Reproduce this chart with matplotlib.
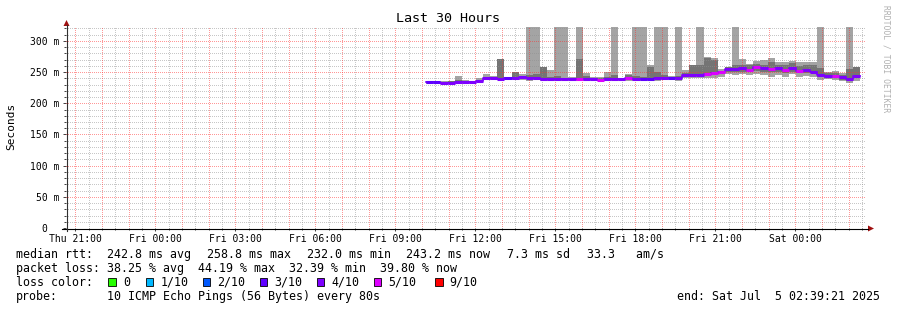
import matplotlib
matplotlib.use('Agg')
import matplotlib.pyplot as plt
from matplotlib.lines import Line2D
from matplotlib.patches import Polygon, Rectangle
import numpy as np

plt.rcParams['font.family'] = ['DejaVu Sans Mono', 'DejaVu Sans']

# time axis: hours since Thu 00:00, view is the last 30 hours before Sat 02:39:21
view_start = 20 + 39 / 60 + 21 / 3600
view_end = view_start + 30
first_step = 34.163          # Fri ~10:10, first consolidated row
step_h = 16 / 60             # 960 s rows

# median rtt per row (ms)
median = [233.5, 233.5, 232.5, 233.0, 233.5, 233.5, 233.5, 236.5,
          240.5, 240.5, 239.5, 240.0, 241.0, 241.5, 241.0, 240.0,
          239.5, 239.5, 239.0, 239.0, 239.0, 238.5, 239.0, 239.5,
          238.0, 238.5, 239.0, 239.0, 240.0, 239.5, 239.5, 239.0,
          240.0, 240.5, 241.0, 241.0, 245.5, 245.5, 246.0, 247.5,
          248.0, 250.0, 255.5, 255.5, 256.5, 253.5, 259.0, 256.0,
          255.0, 256.0, 253.5, 256.5, 252.0, 253.0, 251.0, 245.5,
          244.0, 244.0, 242.0, 239.0, 243.5]

# lost pings out of 10 per row
loss = [3, 3, 4, 4, 4, 4, 4, 4,
        4, 4, 4, 3, 4, 4, 4, 4,
        4, 4, 4, 4, 4, 5, 4, 4,
        5, 4, 4, 4, 5, 4, 3, 3,
        4, 4, 3, 4, 4, 4, 4, 5,
        5, 5, 4, 4, 4, 5, 5, 4,
        5, 4, 5, 4, 5, 4, 4, 4,
        4, 5, 4, 4, 4]

# smoke: outer band (min..max ping), inner band (darker)
ping_max = [236.5, 236.0, 235.0, 236.0, 244.5, 238.0, 236.0, 240.0,
            247.5, 244.0, 271.0, 243.0, 250.0, 247.0, 322, 322,
            259.0, 253.5, 322, 322, 242.0, 322, 248.0, 243.0,
            242.0, 251.0, 322, 241.0, 247.0, 322, 322, 261.5,
            322, 322, 244.0, 322, 253.0, 262.0, 322, 275.0,
            272.0, 255.0, 259.0, 322, 271.0, 263.0, 268.0, 270.0,
            273.0, 267.0, 266.0, 268.0, 266.0, 266.0, 266.0, 322,
            251.0, 252.0, 249.0, 322, 259.0]
ping_hi = [235.0, 235.0, 234.0, 235.0, 237.0, 236.0, 235.0, 238.0,
           243.0, 242.0, 271.0, 242.0, 250.0, 244.0, 246.0, 247.0,
           259.0, 243.0, 244.0, 241.0, 240.0, 271.0, 244.0, 241.0,
           240.0, 243.0, 245.0, 240.0, 245.0, 244.0, 243.0, 258.0,
           250.0, 245.0, 243.0, 244.0, 249.0, 262.0, 262.0, 272.0,
           270.0, 251.0, 258.0, 262.0, 262.0, 261.0, 263.0, 262.0,
           266.0, 262.0, 262.0, 264.0, 260.0, 262.0, 262.0, 256.0,
           248.0, 249.0, 246.0, 255.0, 259.0]
ping_lo = [232.5, 232.5, 231.5, 232.0, 232.5, 232.5, 232.5, 235.0,
           239.0, 239.0, 238.0, 238.5, 239.5, 240.0, 239.0, 238.5,
           238.0, 238.0, 237.5, 237.5, 237.5, 237.0, 237.5, 238.0,
           236.5, 237.0, 237.5, 237.5, 238.0, 238.0, 237.5, 237.5,
           238.5, 239.0, 239.5, 239.0, 243.0, 243.0, 243.5, 244.5,
           245.0, 247.0, 251.0, 250.0, 251.0, 250.0, 252.0, 250.0,
           250.0, 250.0, 249.0, 251.0, 248.0, 249.0, 248.0, 242.0,
           241.0, 240.0, 238.0, 235.0, 240.0]
ping_min = [231.5, 231.5, 231.5, 231.5, 231.5, 231.5, 231.5, 234.0,
            237.5, 238.0, 237.0, 237.5, 238.0, 238.0, 236.0, 237.0,
            236.0, 236.0, 236.0, 236.0, 236.0, 235.0, 236.0, 236.5,
            235.0, 235.5, 236.0, 236.0, 236.5, 236.0, 235.0, 236.0,
            236.0, 237.0, 237.0, 236.0, 240.0, 240.0, 240.0, 241.0,
            241.0, 243.0, 247.0, 245.0, 247.0, 245.0, 247.0, 245.0,
            243.0, 245.0, 243.0, 247.0, 243.0, 244.0, 243.0, 238.0,
            239.0, 237.0, 235.0, 232.0, 235.0]

tick_hours = [21, 24, 27, 30, 33, 36, 39, 42, 45, 48]
tick_labels = ['Thu 21:00', 'Fri 00:00', 'Fri 03:00', 'Fri 06:00', 'Fri 09:00',
               'Fri 12:00', 'Fri 15:00', 'Fri 18:00', 'Fri 21:00', 'Sat 00:00']
y_ticks = [0, 50, 100, 150, 200, 250, 300]
y_labels = ['0  ', '50 m', '100 m', '150 m', '200 m', '250 m', '300 m']

LOSS_COLORS = {0: '#26ff00', 1: '#00b8ff', 2: '#0059ff', 3: '#5e00ff',
               4: '#7e00ff', 5: '#dd00ff', 9: '#ff0000'}
legend_loss = [(0, '0'), (1, '1/10'), (2, '2/10'), (3, '3/10'),
               (4, '4/10'), (5, '5/10'), (9, '9/10')]

W, H = 897, 310
fig = plt.figure(figsize=(W / 100, H / 100), dpi=100)
fig.patch.set_facecolor('white')


def fx(x):
    return x / W


def fy(y):
    return 1 - y / H


# axes placed on whole pixels so the dotted grid stays regular
ax = fig.add_axes([fx(66), fy(228), 800 / W, 202 / H])
ax.set_xlim(view_start, view_end)
ax.set_ylim(0, 324)
for s in ax.spines.values():
    s.set_visible(False)

# smoke
edges = first_step + step_h * np.arange(len(median) + 1)


def ext(a):
    return np.append(a, a[-1])


ax.fill_between(edges, ext(ping_min), ext(ping_max), step='post',
                color='#a4a4a4', lw=0, zorder=1)
ax.fill_between(edges, ext(ping_lo), ext(ping_hi), step='post',
                color='#747474', lw=0, zorder=1.5)

# grid, dotted and drawn over the smoke like rrdtool does
dots = (0, (1, 2))
grid_minor = dict(color='#909090', alpha=0.5, lw=0.72, ls=dots, antialiased=False, zorder=2.5)
grid_major = dict(color='#ff3030', alpha=0.5, lw=0.72, ls=dots, antialiased=False, zorder=2.6)
for h in np.arange(21.5, view_end, 1.0):
    ax.axvline(h, **grid_minor)
for h in np.arange(21, view_end, 1.0):
    ax.axvline(h, **grid_major)
for v in range(10, 321, 10):
    if v % 50:
        ax.axhline(v, **grid_minor)
for v in range(50, 301, 50):
    ax.axhline(v, **grid_major)

# median, coloured by loss
ax.step(edges, ext(median), where='post', color='#7e00ff', lw=1.2, zorder=4)
ax.hlines(median, edges[:-1], edges[1:], colors=[LOSS_COLORS[l] for l in loss],
          lw=2.2, zorder=5)

ax.set_xticks(tick_hours, tick_labels, fontsize=7)
ax.set_xticks(np.arange(21.5, view_end, 0.5), minor=True)
ax.set_yticks(y_ticks, y_labels, fontsize=7)
ax.set_yticks(range(10, 321, 10), minor=True)
ax.tick_params(axis='both', which='major', length=2.2, width=0.7, color='#404040')
ax.tick_params(axis='both', which='minor', length=1.4, width=0.7, color='#404040')
ax.tick_params(axis='x', which='major', pad=1.8)
ax.tick_params(axis='y', which='major', pad=2.6)

# axes with arrows
fig.add_artist(Line2D([fx(62), fx(868)], [fy(228.5), fy(228.5)],
                      transform=fig.transFigure, color='black', lw=0.8))
fig.add_artist(Line2D([fx(66.5), fx(66.5)], [fy(231), fy(25)],
                      transform=fig.transFigure, color='#303030', lw=0.8))
fig.add_artist(Polygon([[fx(874), fy(228.5)], [fx(868), fy(225.5)], [fx(868), fy(231.5)]],
                       transform=fig.transFigure, color='#a01010', lw=0))
fig.add_artist(Polygon([[fx(66.5), fy(20)], [fx(63.5), fy(26)], [fx(69.5), fy(26)]],
                       transform=fig.transFigure, color='#a01010', lw=0))

# titles
fig.text(fx(448), fy(19), 'Last 30 Hours', ha='center', va='center', fontsize=9.6)
fig.text(fx(11), fy(126), 'Seconds', rotation=90, ha='center', va='center', fontsize=8)
fig.text(fx(886), fy(5), 'RRDTOOL / TOBI OETIKER', rotation=-90, ha='center', va='top',
         fontsize=5.8, color='#b0b0b0')

# legend block
LF = 8.4
rows = [
    (254.3, [(16, 'median rtt:'), (107, '242.8 ms avg'), (207, '258.8 ms max'),
             (307, '232.0 ms min'), (406, '243.2 ms now'), (507, '7.3 ms sd'),
             (587, '33.3   am/s')]),
    (268.3, [(16, 'packet loss: 38.25 % avg  44.19 % max  32.39 % min  39.80 % now')]),
    (296.3, [(16, 'probe:'), (107, '10 ICMP Echo Pings (56 Bytes) every 80s')]),
]
for yy, items in rows:
    for xx, s in items:
        fig.text(fx(xx), fy(yy), s, ha='left', va='center', fontsize=LF)
fig.text(fx(880), fy(296.3), 'end: Sat Jul  5 02:39:21 2025', ha='right', va='center',
         fontsize=LF)

fig.text(fx(16), fy(282.3), 'loss color:', ha='left', va='center', fontsize=LF)
box_x = [108.3, 145.7, 202.7, 259.7, 316.7, 373.7, 435]
for bx, (lvl, lab) in zip(box_x, legend_loss):
    fig.add_artist(Rectangle((fx(bx), fy(286)), 7.5 / W, 8.5 / H, transform=fig.transFigure,
                             facecolor=LOSS_COLORS[lvl], edgecolor='black', lw=0.6))
    fig.text(fx(bx + 14.5), fy(282.3), lab, ha='left', va='center', fontsize=LF)

fig.savefig('out.png', dpi=100, facecolor='white')
plt.close(fig)
